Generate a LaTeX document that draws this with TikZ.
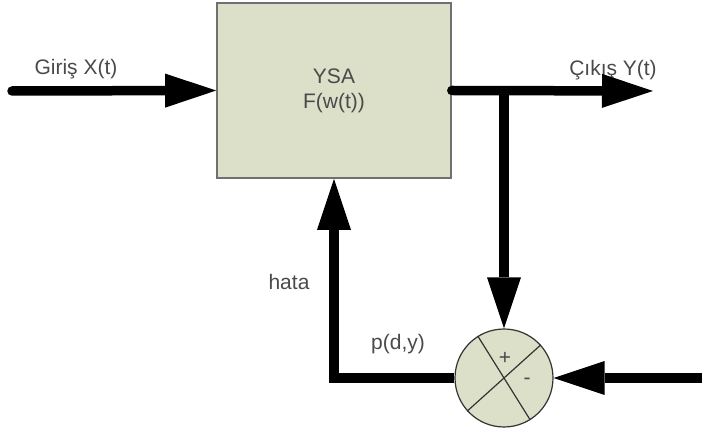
\documentclass[tikz,border=0pt]{standalone}
\usepackage{fontspec}
\setmainfont{Liberation Sans}
\usepackage{tikz}
\usetikzlibrary{arrows.meta,calc,positioning}
\definecolor{Box}{HTML}{DCE0C9}
\definecolor{Edge}{HTML}{707070}
\definecolor{Ink}{HTML}{4A4A4A}

\begin{document}
\begin{tikzpicture}[x=1pt,y=-1pt,font=\fontsize{21}{25}\selectfont,
    >={Triangle[length=51pt,width=34pt,line width=0pt]},
    flow/.style={line width=9.5pt,->},
    lbl/.style={text=Ink,anchor=base,inner sep=0pt}]
        \useasboundingbox (0,0) rectangle (702,435);
        \node[draw=Edge,line width=1.6pt,fill=Box,minimum width=234pt,minimum height=175pt,align=center,text=Ink] (ysa) at (334,90.5) {YSA\\F(w(t))};
        \node[draw=black!80,line width=1.2pt,fill=Box,circle,minimum size=98pt,inner sep=0pt] (sum) at (504,378) {};
        \draw[black!80,line width=1.2pt] (sum.122)--(sum.302) (sum.42)--(sum.222);
        \node[text=Ink,inner sep=0pt] (plus) at (505,358) {+};
        \node[text=Ink,inner sep=0pt] (minus) at (527,381) {-};
        \node[lbl] (giris) at (76,75) {Giriş X(t)};
        \node[lbl] (cikis) at (613,76) {Çıkış Y(t)};
        \node[lbl] (hata) at (289,290) {hata};
        \node[lbl] (pdy) at (398,350) {p(d,y)};
        \coordinate (in) at (12,91);
        \coordinate (out) at (653,91);
        \coordinate (fb) at (702,378);
        \draw[flow,line cap=round] (in)--(ysa.west);
        \draw[flow,line cap=round] (ysa.east)--(out);
        \draw[flow] (sum.north |- ysa.east)--(sum.north);
        \draw[flow] (fb)--(sum.east);
        \draw[flow] (sum.west)-|(ysa.south);
      \end{tikzpicture}
\end{document}
